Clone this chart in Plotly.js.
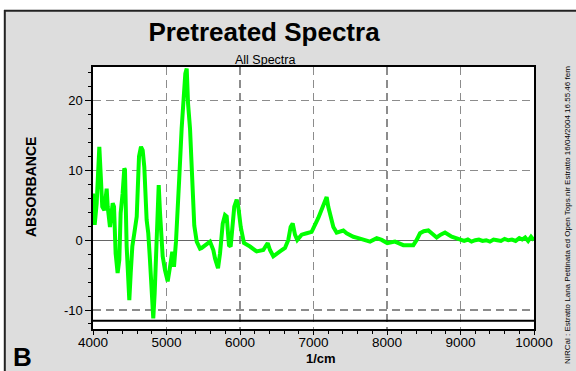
<!DOCTYPE html>
<html>
<head>
<meta charset="utf-8">
<script src="https://cdn.plot.ly/plotly-3.0.1.min.js"></script>
<style>html,body{margin:0;padding:0;background:#fff;}#chart{width:576px;height:371px;}</style>
</head>
<body>
<div id="chart"></div>
<script>
// Wavenumber (1/cm)
var wavenumber = [4000,4023,4050,4072,4086,4104,4126,4154,4186,4200,4231,4268,4286,4308,4335,4358,4376,4403,4426,4435,4458,4494,4513,4535,4562,4595,4626,4653,4676,4698,4730,4752,4775,4799,4820,4839,4857,4880,4894,4912,4948,4980,5016,5048,5075,5093,5102,5129,5147,5161,5174,5206,5238,5256,5275,5293,5320,5343,5378,5411,5456,5479,5524,5592,5637,5660,5701,5728,5765,5796,5819,5850,5873,5900,5922,5955,5977,6010,6054,6136,6227,6317,6377,6408,6453,6544,6612,6657,6689,6717,6748,6779,6839,6907,6975,7065,7133,7179,7201,7234,7270,7315,7360,7406,7451,7542,7610,7678,7769,7860,7928,8004,8109,8222,8358,8404,8449,8500,8562,8620,8676,8730,8789,8880,8993,9050,9100,9150,9200,9250,9300,9350,9400,9450,9500,9550,9600,9650,9700,9750,9800,9840,9880,9920,9960,10000];
// Absorbance
var absorbance = [6.7,2.2,5.3,12.9,13.4,9.6,4.8,4.3,7.4,4.8,1.9,5.3,4.8,-1.9,-4.7,-2.8,3.9,6.7,10.3,10.1,-0.9,-8.6,-4.7,-0.9,1.0,3.4,12.0,13.4,12.9,10.5,2.9,1.0,-2.8,-7.1,-11.2,-7.6,-0.9,7.7,7.9,3.9,-2.3,-4.3,-5.9,-3.8,-1.9,-1.9,-3.8,-0.2,4.5,7.9,9.0,16.0,20.5,23.9,24.6,19.6,16.0,8.8,2.1,-0.2,-1.2,-1.1,-0.7,-0.2,-1.4,-2.6,-4.0,-1.9,2.4,3.6,3.4,-0.7,-0.9,1.9,4.8,5.8,4.8,1.9,-0.4,-0.9,-1.6,-1.4,-0.4,-1.4,-2.3,-1.6,-1.1,0.05,1.9,2.4,0.8,0.05,0.8,1.0,1.2,3.2,4.8,6.2,4.8,3.4,1.9,1.1,1.2,1.4,1.0,0.5,0.3,0.05,-0.2,0.3,0.05,-0.4,-0.2,-0.7,-0.7,0.05,1.0,1.3,1.4,0.9,0.4,0.8,1.1,0.5,0.05,-0.1,0.1,-0.2,0.0,0.1,-0.1,0.0,-0.2,0.1,0.0,-0.1,0.2,0.0,0.1,-0.1,0.3,0.1,0.4,-0.1,0.5,0.0];
// Tick labels
var xTickVals = [4000,5000,6000,7000,8000,9000,10000];
var xTickText = ['4000','5000','6000','7000','8000','9000','10000'];
var yTickVals = [-10, 0, 10, 20];
var yTickText = ['-10', '0', '10', '20'];

var traces = [{
  x: wavenumber, y: absorbance, type: 'scatter', mode: 'lines',
  line: {color: '#00ff00', width: 4}, hoverinfo: 'skip'
}];

var plotL = 93, plotR = 534, plotT = 67, plotB = 329, W = 576, H = 371;
function px(x){ return (x - plotL) / (plotR - plotL); }
function py(y){ return (plotB - y) / (plotB - plotT); }

var font = 'Liberation Sans, Arial, sans-serif';

var layout = {
  width: W, height: H,
  margin: {l: plotL, r: W - plotR, t: plotT, b: H - plotB, pad: 0},
  paper_bgcolor: '#dddddd', plot_bgcolor: '#ffffff',
  showlegend: false,
  title: {text: '<b>Pretreated Spectra</b>', font: {family: font, size: 26, color: '#000'},
          xref: 'container', yref: 'container', x: 264 / W, xanchor: 'center', y: 1 - 32 / H, yanchor: 'middle'},
  xaxis: {
    range: [4000, 10000], tickmode: 'array', tickvals: xTickVals, ticktext: xTickText,
    showgrid: true, gridcolor: '#8c8c8c', gridwidth: 1.3, griddash: '8px,5px',
    showline: true, mirror: true, linecolor: '#000', linewidth: 1.6,
    ticks: 'outside', ticklen: 4, tickcolor: '#000', tickwidth: 1, ticklabelstandoff: -4,
    minor: {dtick: 200, ticks: 'outside', ticklen: 3, tickcolor: '#000', showgrid: false},
    tickfont: {family: font, size: 13.5, color: '#000'}, zeroline: false
  },
  yaxis: {
    range: [-12.72, 24.83], tickmode: 'array', tickvals: yTickVals, ticktext: yTickText,
    showgrid: true, gridcolor: '#8c8c8c', gridwidth: 1.3, griddash: '8px,5px',
    showline: true, mirror: true, linecolor: '#000', linewidth: 1.6,
    ticks: 'outside', ticklen: 6, tickcolor: '#000', tickwidth: 1,
    minor: {dtick: 2, ticks: 'outside', ticklen: 3, tickcolor: '#000', showgrid: false},
    tickfont: {family: font, size: 13, color: '#000'},
    zeroline: true, zerolinecolor: '#666', zerolinewidth: 1.2
  },
  shapes: [
    {type: 'rect', xref: 'paper', yref: 'paper', x0: -0.3, x1: 1.2, y0: py(10), y1: 1.4, fillcolor: '#fff', line: {width: 0}},
    {type: 'rect', xref: 'paper', yref: 'paper', x0: -0.3, x1: px(4), y0: -0.3, y1: 1.4, fillcolor: '#fff', line: {width: 0}},
    {type: 'line', xref: 'paper', yref: 'paper', x0: px(4), x1: 1.2, y0: py(10.8), y1: py(10.8), line: {color: '#222', width: 2}},
    {type: 'line', xref: 'paper', yref: 'paper', x0: px(4.8), x1: px(4.8), y0: -0.3, y1: py(10), line: {color: '#222', width: 2}},
    {type: 'line', xref: 'paper', yref: 'paper', x0: 0, x1: 1, y0: py(320.7), y1: py(320.7), line: {color: '#000', width: 2}}
  ],
  annotations: [
    {text: 'All Spectra', xref: 'paper', yref: 'paper', x: px(265), y: py(60), xanchor: 'center', yanchor: 'middle', showarrow: false, font: {family: font, size: 12.5, color: '#000'}},
    {text: '<b>ABSORBANCE</b>', xref: 'paper', yref: 'paper', x: px(31), y: py(187), xanchor: 'center', yanchor: 'middle', textangle: -90, showarrow: false, font: {family: font, size: 14, color: '#000'}},
    {text: '<b>1/cm</b>', xref: 'paper', yref: 'paper', x: px(321), y: py(358.5), xanchor: 'center', yanchor: 'middle', showarrow: false, font: {family: font, size: 13, color: '#000'}},
    {text: '<b>B</b>', xref: 'paper', yref: 'paper', x: px(22), y: py(357), xanchor: 'center', yanchor: 'middle', showarrow: false, font: {family: font, size: 26, color: '#000'}},
    {text: 'NIRCal : Estratto Lana Pettinata ed Open Tops.nir Estratto 16/04/2004 16.55.46 fem', xref: 'paper', yref: 'paper', x: px(567), y: py(215), xanchor: 'center', yanchor: 'middle', textangle: -90, showarrow: false, font: {family: font, size: 8, color: '#000'}}
  ]
};

Plotly.newPlot('chart', traces, layout, {displayModeBar: false, staticPlot: true});
</script>
</body>
</html>
